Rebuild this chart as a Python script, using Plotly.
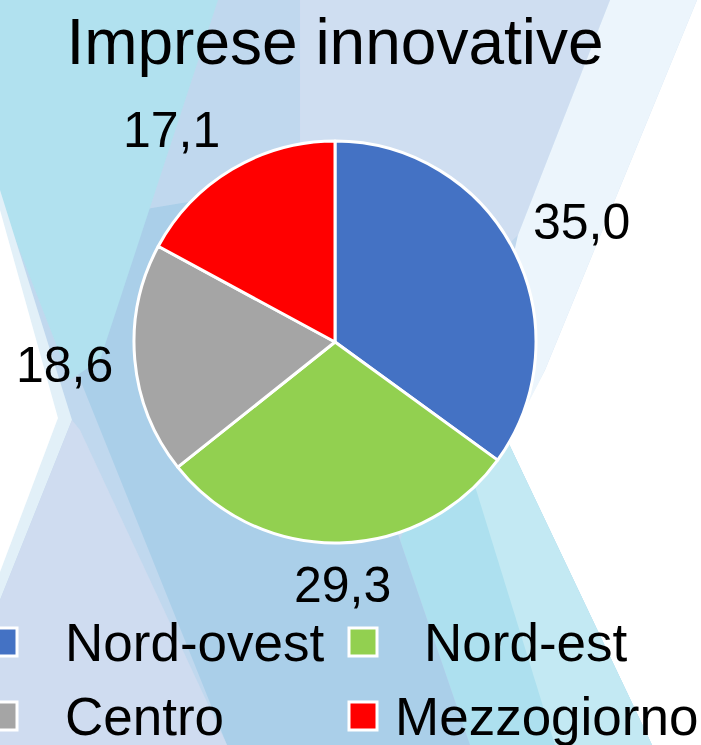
import math
import plotly.graph_objects as go

W, H = 701, 745

regions = ['Nord-ovest', 'Nord-est', 'Centro', 'Mezzogiorno']
values = [35.0, 29.3, 18.6, 17.1]
value_text = ['35,0', '29,3', '18,6', '17,1']
colors = ['#4472c4', '#92d050', '#a5a5a5', '#ff0000']
title_text = 'Imprese innovative'

FONT = 'Liberation Sans, Arial, sans-serif'

# geometria della torta (pixel)
CX, CY, R = 335, 342, 201


def px_path(points):
    # punti in pixel (y verso il basso) -> path in coordinate paper
    parts = []
    for i, (x, y) in enumerate(points):
        cmd = 'M' if i == 0 else 'L'
        parts.append(f'{cmd}{x / W:.4f},{1 - y / H:.4f}')
    return ' '.join(parts) + ' Z'


def soft_sign(t):
    return max(-1.0, min(1.0, t / 0.5))


# sfondo decorativo a bande diagonali
background = [
    ([(0, 0), (701, 0), (701, 745), (0, 745)], '#c0d8ee'),
    ([(300, 0), (610, 0), (518, 235), (420, 330), (300, 200)], '#cfdef1'),
    ([(610, 0), (697, 0), (545, 370), (505, 450), (470, 450), (518, 235)], '#ecf5fc'),
    ([(697, 0), (701, 0), (701, 745), (652, 745), (508, 442), (545, 370)], '#ffffff'),
    ([(430, 470), (508, 442), (652, 745), (470, 745), (400, 540)], '#ade0ef'),
    ([(470, 470), (508, 442), (652, 745), (555, 745)], '#c3e9f3'),
    ([(20, 230), (200, 200), (330, 330), (400, 540), (470, 745), (227, 745)], '#aacfe9'),
    ([(0, 0), (218, 0), (100, 360), (70, 380), (0, 200)], '#b1e1ef'),
    ([(0, 190), (72, 420), (0, 600)], '#e2f0f8'),
    ([(0, 210), (58, 418), (0, 572)], '#ffffff'),
    ([(0, 600), (72, 420), (80, 430), (227, 745), (0, 745)], '#cfdcf0'),
]

fig = go.Figure()

fig.add_trace(go.Pie(
    labels=regions,
    values=values,
    textinfo='none',
    marker=dict(colors=colors, line=dict(color='white', width=3)),
    sort=False,
    direction='clockwise',
    rotation=0,
    domain=dict(x=[(CX - R) / W, (CX + R) / W], y=[1 - (CY + R) / H, 1 - (CY - R) / H]),
    hoverinfo='label+value',
    showlegend=False,
))

for pts, col in background:
    fig.add_shape(type='path', path=px_path(pts), xref='paper', yref='paper',
                  fillcolor=col, line=dict(width=0), layer='below')

# etichette dei valori fuori dalla torta, all'angolo medio di ogni fetta
total = sum(values)
cum = 0
for v, t in zip(values, value_text):
    mid = (cum + v / 2) / total * 2 * math.pi
    cum += v
    dx, dy = math.sin(mid), -math.cos(mid)
    px = CX + dx * (R + 20) + 50 * soft_sign(dx)
    py = CY + dy * (R + 20) + 22 * soft_sign(dy)
    fig.add_annotation(text=t, x=px / W, y=1 - py / H,
                       xref='paper', yref='paper', xanchor='center', yanchor='middle',
                       showarrow=False, font=dict(size=50, color='black', family=FONT))

# legenda su due colonne, come nell'originale
col_sym = [3, 363]
col_txt = [63, 393]
row_y = [642, 716]
for i, (name, col) in enumerate(zip(regions, colors)):
    r, c = divmod(i, 2)
    cx, cy = col_sym[c], row_y[r]
    fig.add_shape(type='rect', xref='paper', yref='paper',
                  x0=(cx - 14) / W, x1=(cx + 14) / W,
                  y0=1 - (cy + 14) / H, y1=1 - (cy - 14) / H,
                  fillcolor=col, line=dict(color='white', width=3))
    tx = col_txt[c] + (29 if name == 'Nord-est' else 0)
    fig.add_annotation(text=name, x=tx / W, y=1 - cy / H, xref='paper', yref='paper',
                       xanchor='left', yanchor='middle', showarrow=False,
                       font=dict(size=53, color='black', family=FONT))

fig.update_layout(
    width=W, height=H,
    margin=dict(l=0, r=0, t=0, b=0),
    paper_bgcolor='white',
    font=dict(family=FONT, color='black'),
    title=dict(text=title_text, x=335 / W, xanchor='center', y=1 - 42 / H, yanchor='middle',
               font=dict(size=64, color='black', family=FONT)),
    showlegend=False,
)

fig.write_html('out.html', config={'displayModeBar': False},
               post_script="document.body.style.margin='0';")
